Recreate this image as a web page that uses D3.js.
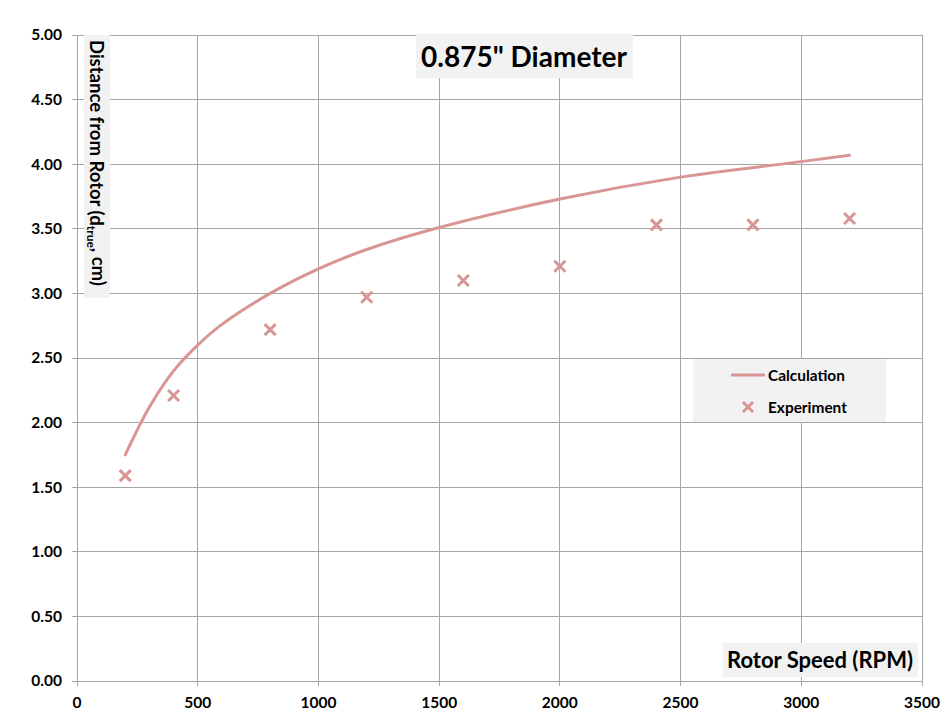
<!DOCTYPE html>
<html><head><meta charset="utf-8">
<script src="https://cdn.jsdelivr.net/npm/d3@7"></script>
<style>
body{margin:0;background:#fff;}
text{font-family:Lato,"Open Sans",sans-serif;font-weight:bold;fill:#000;}
</style></head>
<body><svg id="c" width="945" height="723"></svg>
<script>
const calcRpm = [200,300,400,500,600,800,1000,1200,1500,2000,2500,3000,3200];
const calcDist = [1.75,2.12,2.40,2.60,2.76,3.00,3.19,3.34,3.51,3.73,3.90,4.02,4.07];
const expRpm = [200,400,800,1200,1600,2000,2400,2800,3200];
const expDist = [1.59,2.21,2.72,2.97,3.10,3.21,3.53,3.53,3.58];
const xTicks = [0,500,1000,1500,2000,2500,3000,3500];
const yTicks = [0,0.5,1,1.5,2,2.5,3,3.5,4,4.5,5];
const title = '0.875" Diameter';
const xTitle = 'Rotor Speed (RPM)';
const seriesNames = ['Calculation','Experiment'];

const col = '#d99594', grid = '#a6a6a6';
const L=77,R=922,T=35,B=681;
const svg = d3.select('#c');
const x = d3.scaleLinear().domain([0,3500]).range([L,R]);
const y = d3.scaleLinear().domain([0,5]).range([B,T]);

// gridlines
svg.append('g').selectAll('line').data(yTicks).join('line')
  .attr('x1',L-5).attr('x2',R).attr('y1',d=>y(d)).attr('y2',d=>y(d))
  .attr('stroke',grid).attr('stroke-width',1).attr('shape-rendering','crispEdges');
svg.append('g').selectAll('line').data(xTicks).join('line')
  .attr('x1',d=>x(d)).attr('x2',d=>x(d)).attr('y1',T).attr('y2',B+5)
  .attr('stroke',grid).attr('stroke-width',1).attr('shape-rendering','crispEdges');

// tick labels
svg.append('g').selectAll('text').data(yTicks).join('text')
  .attr('x',L-15).attr('y',d=>y(d)).attr('dy','0.35em').attr('text-anchor','end')
  .attr('font-size',15.5).text(d=>d3.format('.2f')(d));
svg.append('g').selectAll('text').data(xTicks).join('text')
  .attr('x',d=>x(d)).attr('y',B+22).attr('dy','0.35em').attr('text-anchor','middle')
  .attr('font-size',15.5).text(d=>d);

// title
svg.append('rect').attr('x',416).attr('y',34).attr('width',217).attr('height',44).attr('fill','#f2f2f2');
svg.append('text').attr('x',524).attr('y',57).attr('dy','0.36em').attr('text-anchor','middle')
  .attr('font-size',28).text(title);

// y axis title
svg.append('rect').attr('x',84).attr('y',35).attr('width',26).attr('height',263).attr('fill','#f2f2f2');
const yt = svg.append('text').attr('transform','translate(97,40) rotate(90)')
  .attr('dy','0.36em').attr('font-size',18.5);
yt.append('tspan').text('Distance from Rotor (d');
yt.append('tspan').attr('font-size',12).attr('dy','0.25em').text('true');
yt.append('tspan').attr('dy','-0.25em').attr('font-size',18.5).text(', cm)');

// x axis title
svg.append('rect').attr('x',723).attr('y',643).attr('width',195).attr('height',34).attr('fill','#f2f2f2');
svg.append('text').attr('x',820).attr('y',660).attr('dy','0.36em').attr('text-anchor','middle')
  .attr('font-size',22).text(xTitle);

// calculation line
const line = d3.line().x(d=>x(d[0])).y(d=>y(d[1])).curve(d3.curveCatmullRom.alpha(0.5));
svg.append('path').datum(calcRpm.map((r,i)=>[r,calcDist[i]]))
  .attr('d',line).attr('fill','none').attr('stroke',col).attr('stroke-width',3).attr('stroke-linecap','round');

// experiment markers
const xm = (g,cx,cy,s)=>{
  g.append('path').attr('d',`M${cx-s},${cy-s}L${cx+s},${cy+s}M${cx-s},${cy+s}L${cx+s},${cy-s}`)
   .attr('stroke',col).attr('stroke-width',3).attr('fill','none');
};
const mg = svg.append('g');
expRpm.forEach((r,i)=>xm(mg,x(r),y(expDist[i]),5.5));

// legend
svg.append('rect').attr('x',693).attr('y',359).attr('width',193).attr('height',63).attr('fill','#f2f2f2');
svg.append('line').attr('x1',731).attr('x2',765).attr('y1',375).attr('y2',375).attr('stroke',col).attr('stroke-width',3);
svg.append('text').attr('x',768).attr('y',375).attr('dy','0.36em').attr('font-size',15.4).text(seriesNames[0]);
xm(svg,748,407,5);
svg.append('text').attr('x',768).attr('y',407).attr('dy','0.36em').attr('font-size',15.4).text(seriesNames[1]);
</script></body></html>
